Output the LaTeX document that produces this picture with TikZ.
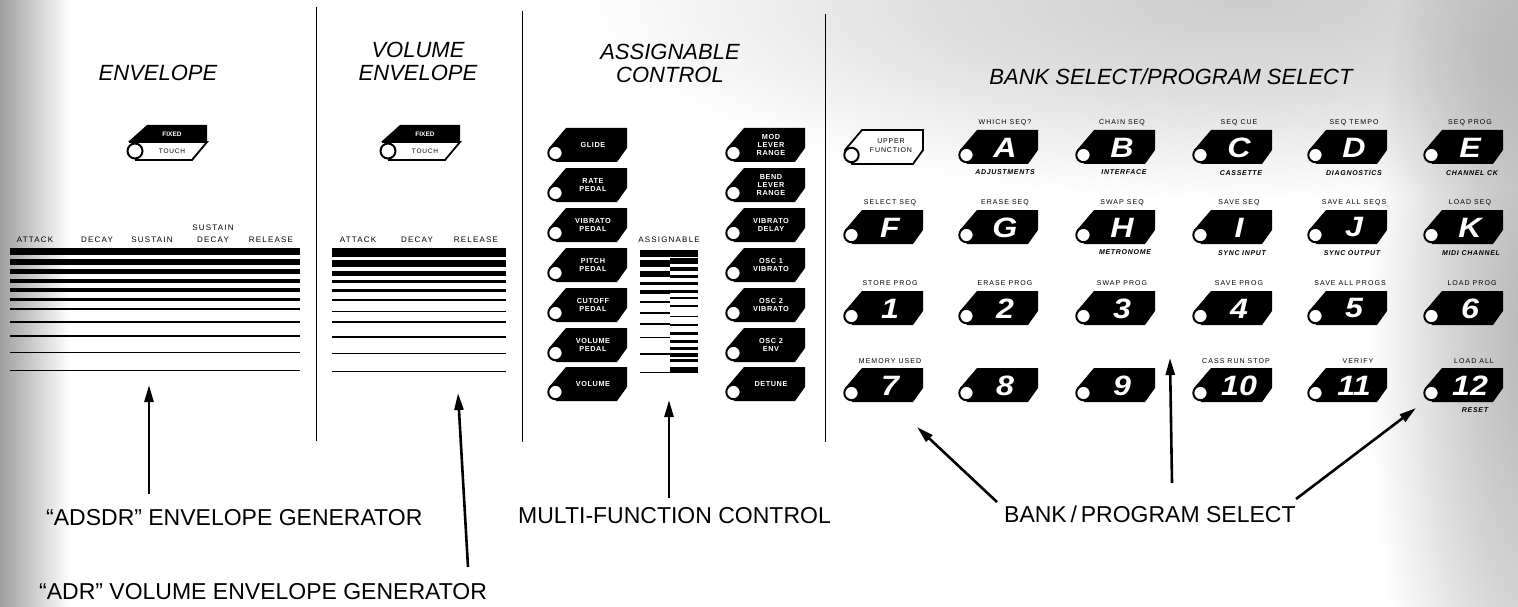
\documentclass[tikz,border=0pt]{standalone}
\usepackage{fontspec}
\setmainfont{Liberation Sans}
\setsansfont{Liberation Sans}
\newfontfamily\bigf{Liberation Sans}[FakeStretch=1.15]
\usetikzlibrary{arrows.meta}
\pgfdeclareradialshading{blobshade}{\pgfpoint{0bp}{0bp}}{color(0bp)=(black!20); color(12bp)=(black!12); color(24bp)=(white); color(50bp)=(white)}
\pgfdeclareradialshading{edgeshade}{\pgfpoint{0bp}{0bp}}{color(0bp)=(black!30); color(12bp)=(black!17); color(24bp)=(white); color(50bp)=(white)}
\tikzset{
 hdr/.style={font=\fontsize{22}{23}\selectfont\itshape, align=center, inner sep=0pt},
 biglbl/.style={font=\fontsize{23}{26}\selectfont, inner sep=0pt},
 sml/.style={font=\fontsize{8}{12}\selectfont\addfontfeature{LetterSpace=15}, inner sep=0pt, align=center},
 tinylbl/.style={font=\fontsize{7}{8}\selectfont\addfontfeature{LetterSpace=15}, inner sep=0pt},
 tinyit/.style={font=\fontsize{7}{8}\selectfont\bfseries\itshape\addfontfeature{LetterSpace=10}, inner sep=0pt},
 btntxt/.style={font=\fontsize{7.3}{8.4}\selectfont\bfseries\addfontfeature{LetterSpace=8}, text=white, align=center, inner sep=0pt},
 uftxt/.style={font=\fontsize{7}{9}\selectfont\addfontfeature{LetterSpace=12}, align=center, inner sep=0pt},
 btnlet/.style={font=\bigf\fontsize{28}{28}\selectfont\bfseries\itshape, text=white, inner sep=0pt},
 ptr/.style={line width=2.6pt, -{Triangle[length=17pt,width=9pt]}},
 sepline/.style={line width=0.9pt},
 tagshape/.style={fill=black},
 led/.style={line width=2pt, draw=black, fill=white},
 scanshade/.style={blend mode=multiply},
}
% tag button with small white text
\newcommand\tagbtn[4]{%
 \begin{scope}[shift={(#1,#2)}]
  \fill[tagshape] (19,0)--(80,0)--(80,20)--(70,34)--(9,34)--(2,20)--cycle;
  \draw[led] (8.5,25) circle[radius=7.2pt];
  \node[btntxt] (#3) at (46,17) {#4};
 \end{scope}}
% tag button with big letter
\newcommand\letbtn[4]{%
 \begin{scope}[shift={(#1,#2)}]
  \fill[tagshape] (19,0)--(80,0)--(80,20)--(70,34)--(9,34)--(2,20)--cycle;
  \draw[led] (8.5,25) circle[radius=7.2pt];
  \node[btnlet] (#3) at (47,17.5) {#4};
 \end{scope}}
% fixed / touch switch
\newcommand\swbtn[3]{%
 \begin{scope}[shift={(#1,#2)}]
  \fill[tagshape] (22,0)--(82,0)--(82,17)--(3,17)--cycle;
  \draw[line width=1.8pt, fill=white] (4,17)--(82,17)--(67,35)--(10,35);
  \draw[led] (10,26) circle[radius=7.5pt];
  \node[font=\fontsize{6.5}{7}\selectfont\bfseries, text=white, inner sep=0pt] (#3f) at (47,9) {FIXED};
  \node[font=\fontsize{6.5}{7}\selectfont\addfontfeature{LetterSpace=12}, inner sep=0pt] (#3t) at (47,26) {TOUCH};
 \end{scope}}
\begin{document}
\begin{tikzpicture}[x=1pt,y=-1pt]
\useasboundingbox (0,0) rectangle (1518,607);
\fill[white] (0,0) rectangle (1518,607);
% scan shading
\shade[left color=black!38,right color=white] (0,0) rectangle (70,607);
\shade[scanshade, shading=blobshade] (1250,0) ellipse [x radius=700pt, y radius=210pt];
\shade[scanshade, shading=edgeshade] (1540,330) ellipse [x radius=180pt, y radius=600pt];

% separators
\draw[sepline] (316,7) -- (316,441);
\draw[sepline] (522.5,11) -- (522.5,442);
\draw[sepline] (825,14) -- (825,442);

% headers
\node[hdr] (hEnv) at (158,72.5) {ENVELOPE};
\node[hdr] (hVol) at (418,61) {VOLUME\\ENVELOPE};
\node[hdr] (hAsg) at (670,63) {ASSIGNABLE\\CONTROL};
\node[hdr] (hBank) at (1171,77) {BANK SELECT/PROGRAM SELECT};

% ===== ADSDR envelope =====
\swbtn{125}{125}{swA}
\node[sml] (eAtt) at (35,240) {ATTACK};
\node[sml] (eDec) at (97,240) {DECAY};
\node[sml] (eSus) at (152,240) {SUSTAIN};
\node[sml] (eSD) at (213,234) {SUSTAIN\\DECAY};
\node[sml] (eRel) at (271,240) {RELEASE};
\foreach \a/\b in {248/255,259/265,269/274,279/282.5,288/291.5,298/300.5,308/310.2,321/323,335/336.8,352/353.4,370/371.2}
  \fill (10,\a) rectangle (300,\b);

% ===== Volume envelope =====
\swbtn{378}{125}{swV}
\node[sml] (vAtt) at (358,240) {ATTACK};
\node[sml] (vDec) at (417,240) {DECAY};
\node[sml] (vRel) at (476,240) {RELEASE};
\foreach \a/\b in {248/257,260/267,271/276,280/283,289/292,299/301,310.5/312.3,321/323,336/337.6,353/354.4,371/372.2}
  \fill (332,\a) rectangle (506,\b);

% ===== Assignable control =====
\tagbtn{547}{128}{gl}{GLIDE}
\tagbtn{547}{168}{rp}{RATE\\PEDAL}
\tagbtn{547}{208}{vp}{VIBRATO\\PEDAL}
\tagbtn{547}{248}{pp}{PITCH\\PEDAL}
\tagbtn{547}{288}{cp}{CUTOFF\\PEDAL}
\tagbtn{547}{328}{volp}{VOLUME\\PEDAL}
\tagbtn{547}{367}{vol}{VOLUME}
\tagbtn{725}{128}{mlr}{MOD\\LEVER\\RANGE}
\tagbtn{725}{168}{blr}{BEND\\LEVER\\RANGE}
\tagbtn{725}{208}{vd}{VIBRATO\\DELAY}
\tagbtn{725}{248}{o1v}{OSC 1\\VIBRATO}
\tagbtn{725}{288}{o2v}{OSC 2\\VIBRATO}
\tagbtn{725}{328}{o2e}{OSC 2\\ENV}
\tagbtn{725}{367}{det}{DETUNE}
\node[sml] (asgl) at (669,240) {ASSIGNABLE};
\fill (640,250) rectangle (698,257);
\foreach \a/\b in {260/267,271/277,282/285,290/294,301/303,312/314,323/325,336.5/338,353/354.5,372/373.2}
  \fill (640,\a) rectangle (670,\b);
\foreach \a/\b in {258/264,267/270.5,275/278,282/285,290/293,297/298.5,305/306.8,315.5/317,324/325.5,332/334.5,340/343,347/350,353/357,358.5/362,367/373}
  \fill (670,\a) rectangle (698,\b);

% ===== Bank / program select =====
\begin{scope}[shift={(843,130)}]
  \draw[line width=1.8pt, fill=white] (19,0)--(80,0)--(80,20)--(70,34)--(9,34)--(2,20)--cycle;
  \draw[led] (8.5,25) circle[radius=7.2pt];
  \node[uftxt] (uf) at (48,16) {UPPER\\FUNCTION};
\end{scope}
\letbtn{958}{130}{bA}{A}
\letbtn{1075}{130}{bB}{B}
\letbtn{1192}{130}{bC}{C}
\letbtn{1307}{130}{bD}{D}
\letbtn{1423}{130}{bE}{E}
\letbtn{843}{210}{bF}{F}
\letbtn{958}{210}{bG}{G}
\letbtn{1075}{210}{bH}{H}
\letbtn{1192}{210}{bI}{I}
\letbtn{1307}{210}{bJ}{J}
\letbtn{1423}{210}{bK}{K}
\letbtn{843}{291}{b1}{1}
\letbtn{958}{291}{b2}{2}
\letbtn{1075}{291}{b3}{3}
\letbtn{1192}{291}{b4}{4}
\letbtn{1307}{291}{b5}{5}
\letbtn{1423}{291}{b6}{6}
\letbtn{843}{368}{b7}{7}
\letbtn{958}{368}{b8}{8}
\letbtn{1075}{368}{b9}{9}
\letbtn{1192}{368}{b10}{10}
\letbtn{1307}{368}{b11}{11}
\letbtn{1423}{368}{b12}{12}

% labels above
\node[tinylbl] (uA) at (1005,123) {WHICH SEQ?};
\node[tinylbl] (uB) at (1122,123) {CHAIN SEQ};
\node[tinylbl] (uC) at (1239,123) {SEQ CUE};
\node[tinylbl] (uD) at (1354,123) {SEQ TEMPO};
\node[tinylbl] (uE) at (1470,123) {SEQ PROG};
\node[tinylbl] (uF) at (890,203) {SELECT SEQ};
\node[tinylbl] (uG) at (1005,203) {ERASE SEQ};
\node[tinylbl] (uH) at (1122,203) {SWAP SEQ};
\node[tinylbl] (uI) at (1239,203) {SAVE SEQ};
\node[tinylbl] (uJ) at (1354,203) {SAVE ALL SEQS};
\node[tinylbl] (uK) at (1470,203) {LOAD SEQ};
\node[tinylbl] (u1) at (890,283) {STORE PROG};
\node[tinylbl] (u2) at (1005,283) {ERASE PROG};
\node[tinylbl] (u3) at (1122,283) {SWAP PROG};
\node[tinylbl] (u4) at (1239,283) {SAVE PROG};
\node[tinylbl] (u5) at (1350,283) {SAVE ALL PROGS};
\node[tinylbl] (u6) at (1472,283) {LOAD PROG};
\node[tinylbl] (u7) at (890,361) {MEMORY USED};
\node[tinylbl] (u10) at (1236,361) {CASS RUN STOP};
\node[tinylbl] (u11) at (1358,361) {VERIFY};
\node[tinylbl] (u12) at (1474,361) {LOAD ALL};
% labels below
\node[tinyit] (dA) at (1005,172) {ADJUSTMENTS};
\node[tinyit] (dB) at (1124,172) {INTERFACE};
\node[tinyit] (dC) at (1241,173) {CASSETTE};
\node[tinyit] (dD) at (1354,173) {DIAGNOSTICS};
\node[tinyit] (dE) at (1472,173) {CHANNEL CK};
\node[tinyit] (dH) at (1125,252) {METRONOME};
\node[tinyit] (dI) at (1242,253) {SYNC INPUT};
\node[tinyit] (dJ) at (1352,253) {SYNC OUTPUT};
\node[tinyit] (dK) at (1471,253) {MIDI CHANNEL};
\node[tinyit] (d12) at (1475,410) {RESET};

% ===== bottom labels and pointers =====
\node[biglbl, anchor=west] (lADSDR) at (46,518) {“ADSDR” ENVELOPE GENERATOR};
\node[biglbl, anchor=west] (lADR) at (39,592) {“ADR” VOLUME ENVELOPE GENERATOR};
\node[biglbl, anchor=west] (lMulti) at (518,516) {MULTI-FUNCTION CONTROL};
\node[biglbl, anchor=west] (lBank) at (1004,514) {BANK\,/\,PROGRAM SELECT};

\coordinate (p1s) at (149,494); \coordinate (p1e) at (149,385);
\coordinate (p2s) at (468,567); \coordinate (p2e) at (458,393);
\coordinate (p3s) at (669,498); \coordinate (p3e) at (669,400);
\coordinate (p4s) at (997,502); \coordinate (p4e) at (917,427);
\coordinate (p5s) at (1172,483); \coordinate (p5e) at (1170,358);
\coordinate (p6s) at (1296,499); \coordinate (p6e) at (1416,408);
\draw[ptr] (p1s) -- (p1e);
\draw[ptr] (p2s) -- (p2e);
\draw[ptr] (p3s) -- (p3e);
\draw[ptr] (p4s) -- (p4e);
\draw[ptr] (p5s) -- (p5e);
\draw[ptr] (p6s) -- (p6e);
\end{tikzpicture}
\end{document}
